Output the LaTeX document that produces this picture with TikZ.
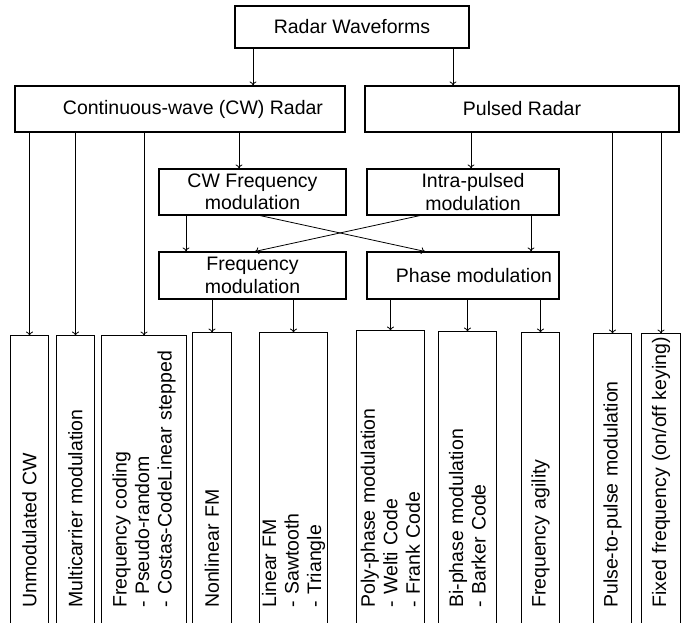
\documentclass[tikz,border=0pt]{standalone}
\usepackage{fontspec}
\setmainfont{Liberation Sans}
\usetikzlibrary{arrows.meta}

\tikzset{
  box/.style={draw, line width=1.1pt, inner sep=0pt, align=center,
    font=\fontsize{19.5}{22.5}\selectfont},
  leaf/.style={rotate=90, anchor=west, inner xsep=2pt, inner ysep=0pt,
    align=left, font=\fontsize{19.5}{22.5}\selectfont},
  link/.style={->, line width=0.8pt},
}

\begin{document}
\begin{tikzpicture}[x=1pt,y=1pt,>={To[length=4pt,width=7pt]}]
    \useasboundingbox (0,0) rectangle (690,622);
    \clip (0,0) rectangle (690,622);
    % upper levels
    \node[box, minimum width=234pt, minimum height=42pt] (top) at (352,595) {Radar Waveforms};
    \node[box, minimum width=330pt, minimum height=46pt] (cw) at (180,513) {\hspace*{26pt}Continuous-wave (CW) Radar};
    \node[box, minimum width=314pt, minimum height=46pt] (pulsed) at (522,513) {Pulsed Radar};
    \node[box, minimum width=187pt, minimum height=46pt] (cwfm) at (252.5,430) {CW Frequency\\modulation};
    \node[box, minimum width=192pt, minimum height=46pt] (intra) at (463,430) {\hspace*{20pt}Intra-pulsed\\\hspace*{20pt}modulation};
    \node[box, minimum width=187pt, minimum height=47pt] (fm) at (252.5,346.5) {Frequency\\modulation};
    \node[box, minimum width=192pt, minimum height=47pt] (pm) at (463,346.5) {\hspace*{22pt}Phase modulation};
    % leaves, open at the bottom
    \node[leaf, minimum width=274pt, text width=270pt, minimum height=37pt] (unmod) at (29.5,12) {Unmodulated CW};
    \node[leaf, minimum width=274pt, text width=270pt, minimum height=37pt] (multi) at (75.5,12) {Multicarrier modulation};
    \node[leaf, minimum width=274pt, text width=270pt, minimum height=84pt] (fcode) at (144,12)
      {Frequency coding\\- Pseudo-random\\- Costas-CodeLinear stepped};
    \node[leaf, minimum width=277pt, text width=273pt, minimum height=38pt] (nlfm) at (212,12) {Nonlinear FM};
    \node[leaf, minimum width=277pt, text width=273pt, minimum height=67pt] (lfm) at (293.5,12)
      {Linear FM\\- Sawtooth\\- Triangle};
    \node[leaf, minimum width=279pt, text width=275pt, minimum height=67pt] (poly) at (390.5,12)
      {Poly-phase modulation\\- Welti Code\\- Frank Code};
    \node[leaf, minimum width=278pt, text width=274pt, minimum height=57pt] (bi) at (467.5,12)
      {Bi-phase modulation\\- Barker Code};
    \node[leaf, minimum width=277pt, text width=273pt, minimum height=37pt] (agile) at (540.5,12) {Frequency agility};
    \node[leaf, minimum width=276pt, text width=272pt, minimum height=37pt] (p2p) at (612.5,12) {Pulse-to-pulse modulation};
    \node[leaf, minimum width=276pt, text width=272pt, minimum height=38pt] (fixed) at (661,12) {Fixed frequency (on/off keying)};
    \foreach \n in {unmod,multi,fcode,nlfm,lfm,poly,bi,agile,p2p,fixed} {
      \draw[line width=1.1pt] (\n.north west |- 0,-5) -- (\n.north east)
        -- (\n.south east) -- (\n.south west |- 0,-5);
    }
    % connectors
    \draw[link] ([xshift=-99pt]top.south) -- ([xshift=-99pt]top.south |- cw.north);
    \draw[link] ([xshift=101pt]top.south) -- ([xshift=101pt]top.south |- pulsed.north);
    \draw[link] ([xshift=59pt]cw.south) -- ([xshift=59pt]cw.south |- cwfm.north);
    \draw[link] ([xshift=-51pt]pulsed.south) -- ([xshift=-51pt]pulsed.south |- intra.north);
    \draw[link] ([xshift=-66.5pt]cwfm.south) -- ([xshift=-66.5pt]cwfm.south |- fm.north);
    \draw[link] ([xshift=68pt]intra.south) -- ([xshift=68pt]intra.south |- pm.north);
    \draw[link] ([xshift=7.5pt]cwfm.south) -- ([xshift=-38pt]pm.north);
    \draw[link] ([xshift=-43pt]intra.south) -- ([xshift=2.5pt]fm.north);
    \foreach \n in {unmod,multi,fcode} \draw[link] (cw.south -| \n.east) -- (\n.east);
    \foreach \n in {nlfm,lfm} \draw[link] (fm.south -| \n.east) -- (\n.east);
    \foreach \n in {poly,bi,agile} \draw[link] (pm.south -| \n.east) -- (\n.east);
    \foreach \n in {p2p,fixed} \draw[link] (pulsed.south -| \n.east) -- (\n.east);
\end{tikzpicture}
\end{document}
